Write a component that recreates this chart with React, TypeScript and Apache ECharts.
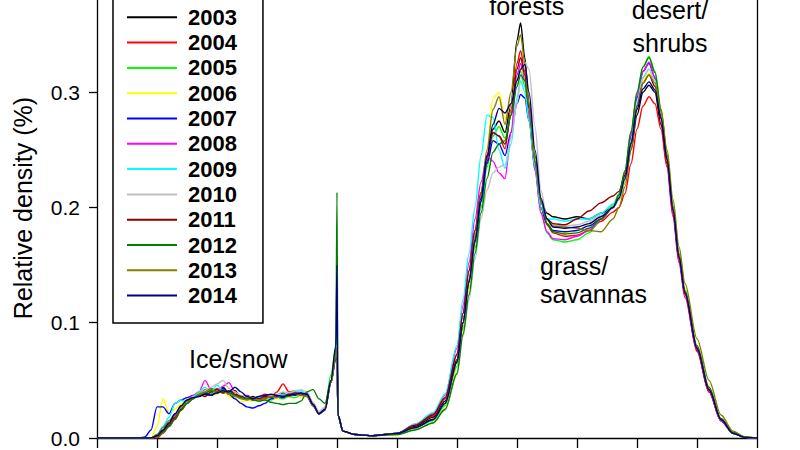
import React, { useEffect, useRef } from "react";
import * as echarts from "echarts";

// shared x positions (axis units, ticks every 10)
const X = [
  0, 7,
  8, 9, 10, 11, 12, 13, 14, 15, 16, 17, 18, 19, 20, 21, 22, 23, 24, 25, 26, 27, 28, 29, 30, 31, 32, 33, 34, 35, 36, 37, 38, 39,
  39.8, 40, 40.15, 41, 43, 46, 50,
  53, 56, 58, 60,
  61, 62, 63, 64, 65, 66, 67, 68, 69, 70, 70.6, 71.3, 72, 73, 74, 75, 76,
  78, 80, 82, 84,
  86, 87, 88, 89, 90, 91, 92, 93, 94, 95, 96, 97, 98,
  100, 102, 104, 106, 108, 110,
];

const years = ["2003", "2004", "2005", "2006", "2007", "2008", "2009", "2010", "2011", "2012", "2013", "2014"];
const colors = ["#000000", "#ff0000", "#00ff00", "#ffff00", "#0000ff", "#ff00ff", "#00ffff", "#c0c0c0", "#8b0000", "#008000", "#808000", "#000080"];
const yTicks = [0, 0.1, 0.2, 0.3];

const y2003 = [
  0, 0,
  0, 0, 0.002, 0.006, 0.012, 0.02, 0.027, 0.033, 0.036, 0.04, 0.038, 0.043, 0.04, 0.044, 0.039, 0.041, 0.036, 0.034, 0.036, 0.033, 0.035, 0.037, 0.036, 0.039, 0.037, 0.04, 0.038, 0.039, 0.03, 0.022, 0.026, 0.05,
  0.075, 0.085, 0.02, 0.006, 0.003, 0.002, 0.004,
  0.01, 0.018, 0.032, 0.068,
  0.1, 0.135, 0.17, 0.205, 0.24, 0.268, 0.275, 0.265, 0.29, 0.345, 0.36, 0.33, 0.29, 0.24, 0.205, 0.195, 0.192,
  0.19, 0.192, 0.19, 0.195,
  0.2, 0.207, 0.222, 0.25, 0.28, 0.3, 0.306, 0.3, 0.272, 0.238, 0.195, 0.155, 0.125,
  0.076, 0.04, 0.015, 0.004, 0.0005, 0,
];
const y2004 = [
  0, 0,
  0, 0, 0, 0.004, 0.01, 0.016, 0.024, 0.03, 0.036, 0.038, 0.042, 0.039, 0.043, 0.04, 0.038, 0.04, 0.036, 0.037, 0.035, 0.036, 0.038, 0.036, 0.04, 0.047, 0.04, 0.041, 0.038, 0.037, 0.028, 0.021, 0.025, 0.048,
  0.07, 0.08, 0.02, 0.006, 0.003, 0.002, 0.004,
  0.011, 0.019, 0.034, 0.072,
  0.108, 0.145, 0.18, 0.212, 0.245, 0.265, 0.262, 0.251, 0.285, 0.325, 0.336, 0.318, 0.287, 0.238, 0.2, 0.185, 0.178,
  0.175, 0.176, 0.18, 0.188,
  0.196, 0.2, 0.212, 0.238, 0.268, 0.288, 0.296, 0.29, 0.268, 0.235, 0.192, 0.152, 0.122,
  0.075, 0.04, 0.015, 0.004, 0.0005, 0,
];
const y2005 = [
  0, 0,
  0, 0, 0.002, 0.007, 0.013, 0.02, 0.026, 0.031, 0.035, 0.037, 0.04, 0.038, 0.041, 0.039, 0.04, 0.037, 0.035, 0.033, 0.034, 0.032, 0.034, 0.033, 0.035, 0.034, 0.036, 0.035, 0.037, 0.036, 0.029, 0.022, 0.027, 0.055,
  0.078, 0.089, 0.02, 0.006, 0.003, 0.002, 0.004,
  0.009, 0.015, 0.028, 0.062,
  0.095, 0.13, 0.165, 0.2, 0.235, 0.262, 0.27, 0.26, 0.28, 0.31, 0.318, 0.305, 0.278, 0.232, 0.196, 0.178, 0.172,
  0.17, 0.172, 0.178, 0.19,
  0.202, 0.212, 0.232, 0.265, 0.298, 0.322, 0.331, 0.318, 0.285, 0.245, 0.2, 0.158, 0.127,
  0.079, 0.043, 0.016, 0.004, 0.0005, 0,
];
const y2006 = [
  0, 0,
  0, 0, 0.01, 0.034, 0.022, 0.025, 0.03, 0.034, 0.036, 0.039, 0.037, 0.042, 0.038, 0.041, 0.036, 0.034, 0.031, 0.033, 0.032, 0.035, 0.033, 0.036, 0.034, 0.037, 0.036, 0.038, 0.036, 0.037, 0.029, 0.021, 0.025, 0.05,
  0.072, 0.08, 0.02, 0.006, 0.003, 0.002, 0.003,
  0.007, 0.013, 0.025, 0.058,
  0.092, 0.13, 0.17, 0.21, 0.25, 0.295, 0.3, 0.277, 0.29, 0.315, 0.322, 0.31, 0.285, 0.242, 0.205, 0.188, 0.18,
  0.178, 0.18, 0.185, 0.192,
  0.2, 0.207, 0.222, 0.255, 0.29, 0.31, 0.316, 0.31, 0.285, 0.25, 0.205, 0.162, 0.13,
  0.08, 0.044, 0.017, 0.005, 0.001, 0,
];
const y2007 = [
  0, 0,
  0.001, 0.007, 0.027, 0.027, 0.021, 0.03, 0.033, 0.035, 0.037, 0.036, 0.039, 0.037, 0.04, 0.043, 0.038, 0.034, 0.03, 0.027, 0.026, 0.028, 0.03, 0.034, 0.036, 0.035, 0.038, 0.037, 0.039, 0.036, 0.028, 0.021, 0.024, 0.048,
  0.07, 0.078, 0.02, 0.006, 0.003, 0.002, 0.004,
  0.009, 0.016, 0.03, 0.066,
  0.1, 0.135, 0.17, 0.205, 0.238, 0.258, 0.255, 0.245, 0.265, 0.29, 0.298, 0.295, 0.275, 0.235, 0.2, 0.186, 0.18,
  0.179, 0.18, 0.184, 0.19,
  0.2, 0.21, 0.228, 0.262, 0.295, 0.318, 0.325, 0.312, 0.28, 0.242, 0.197, 0.156, 0.125,
  0.078, 0.042, 0.016, 0.004, 0.0005, 0,
];
const y2008 = [
  0, 0,
  0, 0, 0.002, 0.006, 0.012, 0.02, 0.027, 0.032, 0.037, 0.04, 0.05, 0.042, 0.04, 0.045, 0.048, 0.04, 0.036, 0.035, 0.033, 0.035, 0.034, 0.036, 0.035, 0.038, 0.037, 0.039, 0.038, 0.037, 0.029, 0.021, 0.025, 0.05,
  0.07, 0.078, 0.02, 0.006, 0.003, 0.002, 0.004,
  0.012, 0.021, 0.037, 0.078,
  0.115, 0.152, 0.19, 0.222, 0.245, 0.24, 0.23, 0.225, 0.265, 0.315, 0.325, 0.31, 0.28, 0.232, 0.195, 0.179, 0.173,
  0.172, 0.175, 0.18, 0.19,
  0.2, 0.21, 0.23, 0.262, 0.297, 0.318, 0.326, 0.313, 0.28, 0.242, 0.196, 0.155, 0.124,
  0.077, 0.041, 0.015, 0.004, 0.0005, 0,
];
const y2009 = [
  0, 0,
  0, 0, 0.003, 0.01, 0.018, 0.03, 0.033, 0.031, 0.036, 0.04, 0.044, 0.04, 0.046, 0.041, 0.039, 0.037, 0.035, 0.036, 0.034, 0.035, 0.036, 0.035, 0.037, 0.038, 0.039, 0.04, 0.041, 0.038, 0.03, 0.022, 0.026, 0.05,
  0.07, 0.078, 0.02, 0.006, 0.003, 0.002, 0.004,
  0.012, 0.022, 0.038, 0.08,
  0.12, 0.16, 0.2, 0.245, 0.28, 0.278, 0.25, 0.234, 0.255, 0.295, 0.31, 0.3, 0.275, 0.235, 0.2, 0.19, 0.19,
  0.188, 0.19, 0.19, 0.195,
  0.203, 0.21, 0.226, 0.258, 0.292, 0.313, 0.32, 0.31, 0.282, 0.245, 0.2, 0.158, 0.127,
  0.079, 0.043, 0.016, 0.004, 0.0005, 0,
];
const y2010 = [
  0, 0,
  0, 0, 0.001, 0.005, 0.01, 0.018, 0.025, 0.031, 0.035, 0.038, 0.041, 0.044, 0.047, 0.05, 0.043, 0.04, 0.037, 0.036, 0.035, 0.034, 0.036, 0.037, 0.038, 0.04, 0.039, 0.041, 0.042, 0.04, 0.031, 0.023, 0.027, 0.05,
  0.07, 0.078, 0.02, 0.006, 0.003, 0.002, 0.003,
  0.007, 0.013, 0.024, 0.055,
  0.088, 0.12, 0.155, 0.19, 0.215, 0.23, 0.235, 0.237, 0.26, 0.29, 0.31, 0.326, 0.32, 0.27, 0.215, 0.19, 0.185,
  0.184, 0.185, 0.188, 0.193,
  0.2, 0.208, 0.225, 0.255, 0.29, 0.312, 0.32, 0.31, 0.282, 0.245, 0.2, 0.158, 0.127,
  0.079, 0.043, 0.016, 0.004, 0.0005, 0,
];
const y2011 = [
  0, 0,
  0, 0, 0.002, 0.006, 0.011, 0.018, 0.025, 0.03, 0.034, 0.038, 0.036, 0.04, 0.042, 0.039, 0.041, 0.038, 0.036, 0.034, 0.035, 0.034, 0.036, 0.035, 0.037, 0.036, 0.038, 0.039, 0.037, 0.038, 0.029, 0.021, 0.025, 0.05,
  0.068, 0.076, 0.02, 0.006, 0.003, 0.002, 0.004,
  0.011, 0.02, 0.035, 0.073,
  0.108, 0.145, 0.18, 0.213, 0.243, 0.265, 0.262, 0.255, 0.28, 0.32, 0.33, 0.315, 0.286, 0.24, 0.205, 0.19, 0.186,
  0.185, 0.19, 0.197, 0.204,
  0.21, 0.214, 0.228, 0.256, 0.288, 0.308, 0.315, 0.305, 0.278, 0.242, 0.198, 0.157, 0.126,
  0.078, 0.042, 0.016, 0.004, 0.0005, 0,
];
const y2012 = [
  0, 0,
  0, 0, 0.001, 0.005, 0.01, 0.017, 0.024, 0.03, 0.034, 0.037, 0.039, 0.041, 0.04, 0.042, 0.039, 0.037, 0.035, 0.034, 0.033, 0.032, 0.033, 0.031, 0.03, 0.029, 0.03, 0.03, 0.032, 0.04, 0.042, 0.034, 0.03, 0.05,
  0.07, 0.213, 0.02, 0.006, 0.003, 0.002, 0.003,
  0.007, 0.013, 0.025, 0.056,
  0.09, 0.124, 0.16, 0.195, 0.225, 0.248, 0.255, 0.258, 0.28, 0.305, 0.315, 0.31, 0.288, 0.245, 0.206, 0.186, 0.179,
  0.177, 0.178, 0.182, 0.19,
  0.2, 0.211, 0.232, 0.266, 0.3, 0.322, 0.33, 0.317, 0.285, 0.246, 0.201, 0.16, 0.128,
  0.08, 0.044, 0.017, 0.005, 0.001, 0,
];
const y2013 = [
  0, 0,
  0, 0, 0.003, 0.009, 0.015, 0.021, 0.027, 0.032, 0.035, 0.038, 0.04, 0.043, 0.039, 0.041, 0.038, 0.036, 0.034, 0.033, 0.035, 0.033, 0.034, 0.036, 0.035, 0.037, 0.036, 0.038, 0.037, 0.036, 0.028, 0.021, 0.025, 0.048,
  0.07, 0.078, 0.02, 0.006, 0.003, 0.002, 0.004,
  0.009, 0.016, 0.03, 0.065,
  0.1, 0.138, 0.175, 0.212, 0.25, 0.285, 0.296, 0.272, 0.3, 0.34, 0.35, 0.325, 0.29, 0.24, 0.205, 0.19, 0.184,
  0.183, 0.182, 0.18, 0.179,
  0.19, 0.2, 0.218, 0.25, 0.285, 0.308, 0.315, 0.308, 0.283, 0.25, 0.207, 0.166, 0.134,
  0.086, 0.05, 0.02, 0.006, 0.001, 0,
];
const y2014 = [
  0, 0,
  0, 0, 0.002, 0.007, 0.013, 0.021, 0.028, 0.033, 0.035, 0.036, 0.038, 0.037, 0.039, 0.041, 0.04, 0.044, 0.04, 0.036, 0.034, 0.036, 0.037, 0.038, 0.037, 0.036, 0.037, 0.038, 0.039, 0.038, 0.029, 0.021, 0.025, 0.05,
  0.08, 0.15, 0.02, 0.006, 0.003, 0.002, 0.004,
  0.009, 0.016, 0.03, 0.066,
  0.1, 0.136, 0.172, 0.208, 0.245, 0.272, 0.286, 0.282, 0.29, 0.31, 0.32, 0.324, 0.3, 0.25, 0.208, 0.19, 0.183,
  0.182, 0.183, 0.186, 0.192,
  0.2, 0.208, 0.225, 0.255, 0.285, 0.303, 0.309, 0.302, 0.277, 0.242, 0.198, 0.157, 0.126,
  0.078, 0.042, 0.016, 0.004, 0.0005, 0,
];

const allValues = [y2003, y2004, y2005, y2006, y2007, y2008, y2009, y2010, y2011, y2012, y2013, y2014];

const FONT = '"Liberation Sans", Arial, sans-serif';

export default function App() {
  const ref = useRef<HTMLDivElement>(null);
  useEffect(() => {
    if (!ref.current) return;
    const chart = echarts.init(ref.current, null, { renderer: "svg" });
    const series = allValues.map((ys, i) => ({
      name: years[i],
      type: "line",
      data: X.map((x, j) => [x, ys[j]]),
      symbol: "none",
      smooth: 0.3,
      smoothMonotone: "x",
      color: colors[i],
      lineStyle: { width: 1.4, color: colors[i] },
      emphasis: { disabled: true },
      silent: true,
    }));
    const annot = (text: string, x: number, y: number, align: string) => ({
      type: "text",
      x,
      y,
      silent: true,
      style: {
        text,
        font: `25px ${FONT}`,
        fill: "#000",
        align,
        textAlign: align,
        verticalAlign: "middle",
        textVerticalAlign: "middle",
      },
    });
    chart.setOption({
      animation: false,
      backgroundColor: "#fff",
      grid: { left: 97, right: 43, top: 0, bottom: 12, containLabel: false },
      xAxis: {
        type: "value",
        min: 0,
        max: 110,
        interval: 10,
        axisLine: { show: true, lineStyle: { color: "#000", width: 1.3 } },
        axisTick: { show: true, inside: false, length: 10, lineStyle: { color: "#000", width: 1.3 } },
        axisLabel: { show: false },
        splitLine: { show: false },
      },
      yAxis: [
        {
          type: "value",
          min: 0,
          max: 0.38,
          interval: 0.1,
          axisLine: { show: true, lineStyle: { color: "#000", width: 1.3 } },
          axisTick: { show: true, inside: false, length: 8, lineStyle: { color: "#000", width: 1.3 } },
          axisLabel: {
            show: true,
            margin: 17,
            showMaxLabel: false,
            color: "#000",
            fontSize: 21,
            fontFamily: FONT,
            formatter: (v: number) => (yTicks.some((t) => Math.abs(t - v) < 1e-9) ? v.toFixed(1) : ""),
          },
          splitLine: { show: false },
        },
        {
          type: "value",
          position: "right",
          min: 0,
          max: 0.38,
          interval: 0.1,
          axisLine: { show: true, lineStyle: { color: "#000", width: 1.3 } },
          axisTick: { show: false },
          axisLabel: { show: false },
          splitLine: { show: false },
        },
      ],
      legend: {
        show: true,
        orient: "vertical",
        left: 113,
        top: -7.7,
        width: 150,
        padding: [14, 26, 16.4, 14],
        itemGap: 3.3,
        itemWidth: 50,
        itemHeight: 2,
        icon: "rect",
        borderColor: "#000",
        borderWidth: 1.5,
        backgroundColor: "#fff",
        selectedMode: false,
        data: years,
        textStyle: {
          color: "#000",
          fontSize: 22,
          fontWeight: "bold",
          fontFamily: FONT,
          lineHeight: 22,
          padding: [0, 0, 0, 6],
        },
      },
      graphic: [
        {
          type: "text",
          x: 23,
          y: 208,
          rotation: Math.PI / 2,
          silent: true,
          style: {
            text: "Relative density (%)",
            font: `25px ${FONT}`,
            fill: "#000",
            align: "center",
            textAlign: "center",
            verticalAlign: "middle",
            textVerticalAlign: "middle",
          },
        },
        annot("Ice/snow", 189, 359.3, "left"),
        annot("forests", 526.7, 6, "center"),
        annot("desert/", 670, 10, "center"),
        annot("shrubs", 670, 43, "center"),
        annot("grass/", 540, 266.3, "left"),
        annot("savannas", 540, 294.3, "left"),
      ],
      series,
    });
    return () => chart.dispose();
  }, []);
  return (
    <div
      ref={ref}
      style={{ position: "fixed", left: 0, top: 0, width: 800, height: 450, background: "#fff" }}
    />
  );
}
